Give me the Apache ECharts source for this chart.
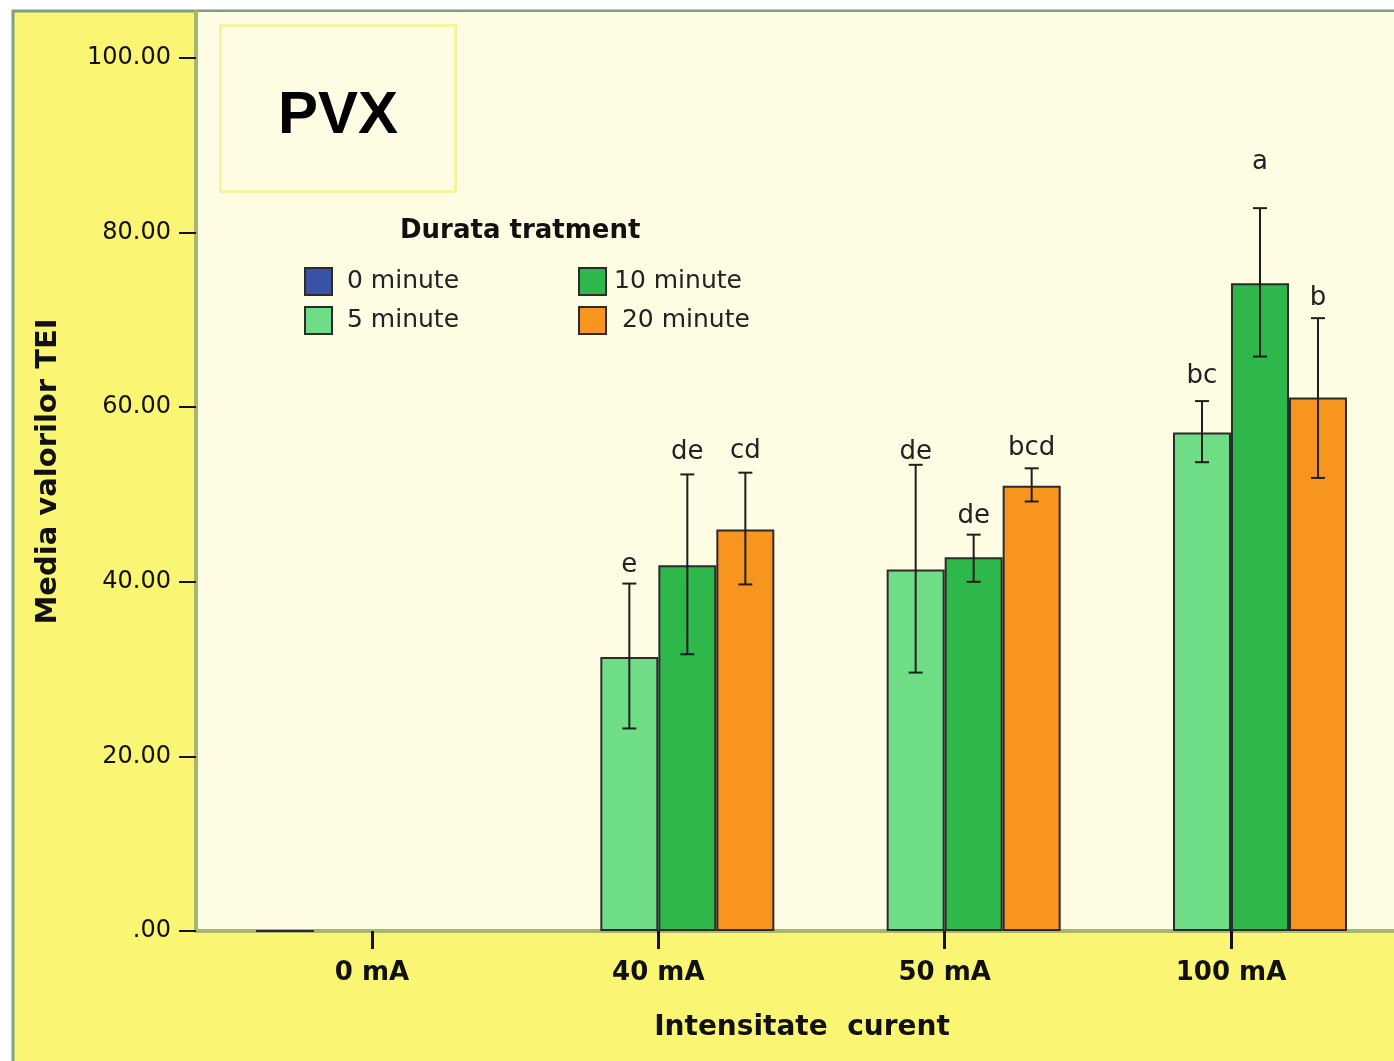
<!DOCTYPE html>
<html>
<head>
<meta charset="utf-8">
<script src="https://cdn.jsdelivr.net/npm/echarts@6/dist/echarts.min.js"></script>
<style>html,body{margin:0;padding:0;background:#fff;}#chart{width:1394px;height:1061px;}</style>
</head>
<body>
<div id="chart"></div>
<script>
// ---- data ----
const categories = ['0 mA', '40 mA', '50 mA', '100 mA'];
const seriesNames = ['0 minute', '5 minute', '10 minute', '20 minute'];
const yTicks = [0, 20, 40, 60, 80, 100];

const mean0  = [0,    null, null, null];
const mean5  = [null, 31.4, 41.4, 57.1];
const mean10 = [null, 41.9, 42.8, 74.2];
const mean20 = [null, 46.0, 51.0, 61.1];

const lo5  = [null, 23.2, 29.6, 53.7];
const hi5  = [null, 39.8, 53.4, 60.7];
const lo10 = [null, 31.7, 40.0, 65.8];
const hi10 = [null, 52.3, 45.4, 82.8];
const lo20 = [null, 39.7, 49.2, 51.9];
const hi20 = [null, 52.5, 53.0, 70.2];

const letters5  = [null, 'e',  'de',  'bc'];
const letters10 = [null, 'de', 'de',  'a'];
const letters20 = [null, 'cd', 'bcd', 'b'];
const letterY5  = [null, 41.9, 54.8, 63.6];
const letterY10 = [null, 54.8, 47.5, 88.1];
const letterY20 = [null, 55.0, 55.3, 72.5];

// ---- build ----
const colors = ['#3a52a5', '#6fdc86', '#2eb74b', '#f7951e'];
const means = [mean0, mean5, mean10, mean20];
const BAR_W = 58;

const errItems = [];
[[1, lo5, hi5, letters5, letterY5], [2, lo10, hi10, letters10, letterY10], [3, lo20, hi20, letters20, letterY20]]
  .forEach(([s, lo, hi, lt, ly]) => {
    lo.forEach((v, i) => {
      if (v == null) return;
      errItems.push({ value: [i, s, lo[i], hi[i], ly[i]], letter: lt[i] });
    });
  });

const font = 'DejaVu Sans';
const chart = echarts.init(document.getElementById('chart'), null, { renderer: 'canvas' });

const barSeries = seriesNames.map((name, s) => ({
  name: name,
  type: 'bar',
  barWidth: BAR_W,
  barGap: '0%',
  data: means[s].map((v, i) => [i, v == null ? '-' : v]),
  itemStyle: { color: colors[s], borderColor: '#2b2b2b', borderWidth: 2 },
  emphasis: { disabled: true },
  z: 2
}));

const errSeries = {
  type: 'custom',
  clip: false,
  z: 5,
  data: errItems,
  renderItem: function (params, api) {
    const item = errItems[params.dataIndex];
    const xi = api.value(0), s = api.value(1);
    const off = (s - 1.5) * BAR_W;
    const pLo = api.coord([xi, api.value(2)]);
    const pHi = api.coord([xi, api.value(3)]);
    const pL = api.coord([xi, api.value(4)]);
    const x = pLo[0] + off;
    const st = { stroke: '#1e1e1e', lineWidth: 2 };
    return {
      type: 'group',
      children: [
        { type: 'line', shape: { x1: x, y1: pLo[1], x2: x, y2: pHi[1] }, style: st },
        { type: 'line', shape: { x1: x - 7, y1: pLo[1], x2: x + 7, y2: pLo[1] }, style: st },
        { type: 'line', shape: { x1: x - 7, y1: pHi[1], x2: x + 7, y2: pHi[1] }, style: st },
        { type: 'text', x: x, y: pL[1], style: { text: item.letter, fill: '#222', font: '26px "DejaVu Sans"', textAlign: 'center', textVerticalAlign: 'middle' } }
      ]
    };
  }
};

const option = {
  animation: false,
  backgroundColor: '#ffffff',
  graphic: {
    elements: [
      { type: 'rect', z: -10, silent: true, shape: { x: 13, y: 11, width: 1400, height: 1070 },
        style: { fill: '#faf572', stroke: '#7f9f85', lineWidth: 3 } }
    ]
  },
  title: [
    { text: 'PVX', left: 220, top: 25, padding: [61, 58, 46, 58],
      borderColor: '#f7f3a0', borderWidth: 3,
      textStyle: { fontFamily: 'Liberation Sans', fontWeight: 'bold', fontSize: 60, color: '#000', lineHeight: 60 } },
    { text: 'Durata tratment', left: 400, top: 218, padding: 0,
      textStyle: { fontFamily: font, fontWeight: 'bold', fontSize: 26, color: '#111' } }
  ],
  legend: [
    { data: ['0 minute', '5 minute'], orient: 'vertical', left: 304, top: 267, padding: 0,
      icon: 'rect', itemWidth: 27, itemHeight: 27, itemGap: 10, selectedMode: false,
      textStyle: { fontFamily: font, fontSize: 25, color: '#222', padding: [0, 0, 0, 10] } },
    { data: ['10 minute', '20 minute'], orient: 'vertical', left: 578, top: 267, padding: 0,
      icon: 'rect', itemWidth: 27, itemHeight: 27, itemGap: 10, selectedMode: false,
      formatter: function (n) { return n === '20 minute' ? ' ' + n : n; },
      textStyle: { fontFamily: font, fontSize: 25, color: '#222', padding: [0, 0, 0, 3] } }
  ],
  grid: {
    left: 196, right: 0, top: 12, bottom: 130,
    show: true, backgroundColor: '#fefde4', borderWidth: 0
  },
  xAxis: {
    type: 'value',
    min: -176 / 286.33,
    max: (1394 - 372) / 286.33,
    splitLine: { show: false },
    axisLine: { show: true, onZero: false, lineStyle: { color: '#a6b76c', width: 4 } },
    axisTick: { show: true, customValues: [0, 1, 2, 3], length: 18, lineStyle: { color: '#111', width: 3 } },
    axisLabel: {
      customValues: [0, 1, 2, 3],
      formatter: function (v) { return categories[Math.round(v)]; },
      margin: 29, fontFamily: font, fontWeight: 'bold', fontSize: 26, color: '#111'
    },
    name: 'Intensitate  curent',
    nameLocation: 'middle',
    nameGap: 83,
    nameTextStyle: { fontFamily: font, fontWeight: 'bold', fontSize: 28, color: '#111', padding: [0, 0, 0, 14] }
  },
  yAxis: {
    type: 'value',
    min: 0,
    max: 919 / 8.73,
    splitLine: { show: false },
    axisLine: { show: true, onZero: false, lineStyle: { color: '#a6b76c', width: 4 } },
    axisTick: { show: true, customValues: yTicks, length: 17, lineStyle: { color: '#111', width: 2 } },
    axisLabel: {
      customValues: yTicks,
      formatter: function (v) { return v === 0 ? '.00' : v.toFixed(2); },
      margin: 25, fontFamily: font, fontSize: 24, color: '#111', padding: [3, 0, 0, 0]
    },
    name: 'Media valorilor TEI',
    nameLocation: 'middle',
    nameGap: 133,
    nameTextStyle: { fontFamily: font, fontWeight: 'bold', fontSize: 29, color: '#111' }
  },
  series: barSeries.concat([errSeries])
};
chart.setOption(option);
</script>
</body>
</html>
